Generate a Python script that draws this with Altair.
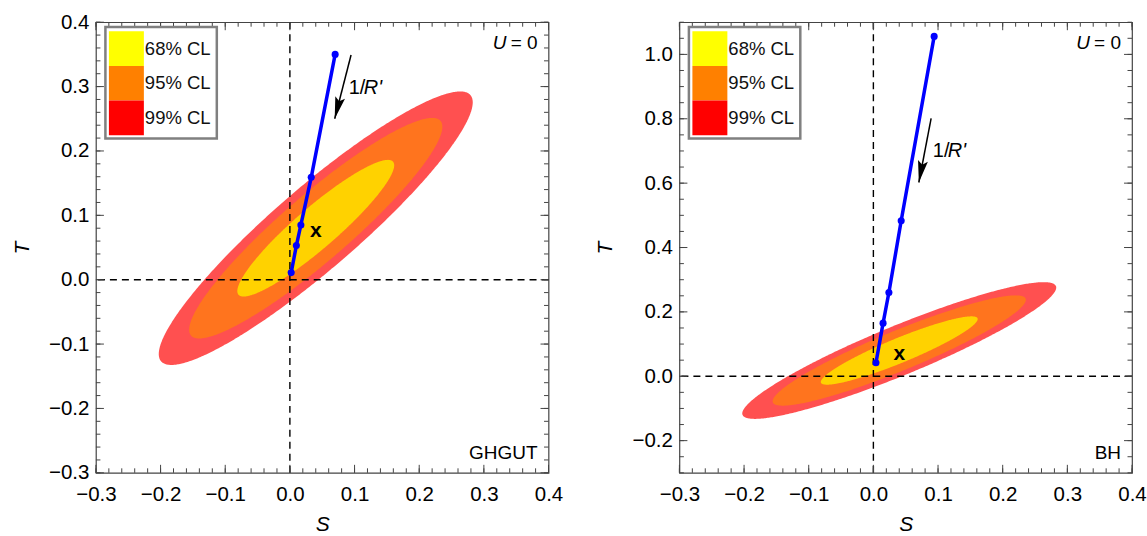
import altair as alt
import numpy as np
import pandas as pd

# ---------------- data ----------------
fit_center = [0.04, 0.08]      # best-fit (S, T), marked with "x"
fit_sigma = [0.08, 0.07]       # sigma_S, sigma_T
fit_rho = 0.92                 # S-T correlation
cl_labels = ["68% CL", "95% CL", "99% CL"]
cl_dchi2 = [2.30, 5.99, 9.21]
contour_colors = ["#FFD200", "#FF741E", "#FF5050"]
legend_colors = ["#FFFF00", "#FF8000", "#FF0000"]

ghgut_S = [0.070, 0.033, 0.017, 0.010, 0.002]
ghgut_T = [0.350, 0.159, 0.085, 0.053, 0.011]
bh_S = [0.094, 0.043, 0.024, 0.015, 0.004]
bh_T = [1.056, 0.483, 0.260, 0.165, 0.042]

ghgut_arrow = [0.0946, 0.349, 0.0693, 0.250]   # S0, T0, S1(tip), T1(tip)
bh_arrow = [0.0893, 0.801, 0.0703, 0.602]
ghgut_arrow_label = [0.091, 0.298]
bh_arrow_label = [0.092, 0.700]

s_major = [-0.3, -0.2, -0.1, 0.0, 0.1, 0.2, 0.3, 0.4]
s_minor = [round(-0.3 + 0.02 * i, 2) for i in range(36)]
ghgut_t_major = [-0.3, -0.2, -0.1, 0.0, 0.1, 0.2, 0.3, 0.4]
ghgut_t_minor = [round(-0.3 + 0.02 * i, 2) for i in range(36)]
bh_t_major = [-0.2, 0.0, 0.2, 0.4, 0.6, 0.8, 1.0]
bh_t_minor = [round(-0.3 + 0.05 * i, 2) for i in range(29)]

FONT = "Liberation Sans"
FRAME = "#444444"
W, H = 453, 451
ARROW_HEAD = "M0,0 L-0.5,-2.2 L0,-1.8 L0.5,-2.2 Z"


def ellipse_df(dchi2):
    r = np.sqrt(dchi2)
    th = np.linspace(0, np.pi, 241)
    S = fit_center[0] + r * fit_sigma[0] * np.cos(th)
    mid = fit_center[1] + fit_rho * fit_sigma[1] * r * np.cos(th)
    half = fit_sigma[1] * np.sqrt(1 - fit_rho ** 2) * r * np.sin(th)
    return pd.DataFrame({"S": S, "hi": mid + half, "lo": mid - half})


def panel(name, t_domain, t_major, t_minor, line_S, line_T, arrow, arrow_angle, lab):
    xs = alt.Scale(domain=[-0.3, 0.4], nice=False, zero=False)
    ys = alt.Scale(domain=t_domain, nice=False, zero=False)
    xax = alt.Axis(values=s_major, format=".1f", title="S", labelPadding=12,
                   titleX=W / 2, titleY=58, titleBaseline="alphabetic")
    yax = alt.Axis(values=t_major, format=".1f", title="T", labelPadding=7,
                   titleX=-67.7, titleY=H / 2, titleBaseline="alphabetic")

    def X(f):
        return alt.X(f, type="quantitative", scale=xs, axis=xax)

    def Y(f):
        return alt.Y(f, type="quantitative", scale=ys, axis=yax)

    layers = []
    # confidence contours (99 -> 68)
    for k in [2, 1, 0]:
        layers.append(alt.Chart(ellipse_df(cl_dchi2[k])).mark_area(
            color=contour_colors[k], opacity=1).encode(
            x=X("S"), y=Y("hi"), y2="lo"))
    # dashed zero lines
    zero = pd.DataFrame({"v": [0.0]})
    layers.append(alt.Chart(zero).mark_rule(color="black", strokeWidth=1.4,
                                            strokeDash=[7, 5]).encode(x=X("v")))
    layers.append(alt.Chart(zero).mark_rule(color="black", strokeWidth=1.4,
                                            strokeDash=[7, 5]).encode(y=Y("v")))
    # frame ticks (inward)
    for vals, L in [(s_minor, 4.5), (s_major, 8)]:
        d = pd.DataFrame({"v": vals})
        layers.append(alt.Chart(d).mark_rule(color=FRAME, strokeWidth=1).encode(
            x=X("v"), y=alt.value(H), y2=alt.value(H - L)))
        layers.append(alt.Chart(d).mark_rule(color=FRAME, strokeWidth=1).encode(
            x=X("v"), y=alt.value(0), y2=alt.value(L)))
    for vals, L in [(t_minor, 4.5), (t_major, 8)]:
        d = pd.DataFrame({"v": vals})
        layers.append(alt.Chart(d).mark_rule(color=FRAME, strokeWidth=1).encode(
            y=Y("v"), x=alt.value(0), x2=alt.value(L)))
        layers.append(alt.Chart(d).mark_rule(color=FRAME, strokeWidth=1).encode(
            y=Y("v"), x=alt.value(W), x2=alt.value(W - L)))
    # best fit marker
    c = pd.DataFrame({"S": [fit_center[0]], "T": [fit_center[1]]})
    layers.append(alt.Chart(c).mark_text(text="x", font=FONT, fontSize=21, dy=3,
                                         fontWeight="bold", baseline="middle",
                                         color="black").encode(x=X("S"), y=Y("T")))
    # blue line with points
    ld = pd.DataFrame({"S": line_S, "T": line_T, "i": list(range(len(line_S)))})
    layers.append(alt.Chart(ld).mark_line(color="#0000FF", strokeWidth=3.5).encode(
        x=X("S"), y=Y("T"), order="i:Q"))
    layers.append(alt.Chart(ld).mark_circle(color="#0000FF", size=50, opacity=1).encode(
        x=X("S"), y=Y("T")))
    # arrow 1/R'
    ad = pd.DataFrame({"S0": [arrow[0]], "T0": [arrow[1]],
                       "S1": [arrow[2]], "T1": [arrow[3]]})
    layers.append(alt.Chart(ad).mark_rule(color="black", strokeWidth=1.5).encode(
        x=X("S0"), y=Y("T0"), x2="S1", y2="T1"))
    layers.append(alt.Chart(ad).mark_point(shape=ARROW_HEAD, size=400, angle=arrow_angle,
                                           filled=True, color="black", opacity=1,
                                           strokeWidth=0).encode(x=X("S1"), y=Y("T1")))
    lb = pd.DataFrame({"S": [lab[0]], "T": [lab[1]]})
    layers.append(alt.Chart(lb).mark_text(text="1/", font=FONT, fontSize=20, align="left",
                                          baseline="middle", color="black").encode(
        x=X("S"), y=Y("T")))
    layers.append(alt.Chart(lb).mark_text(text="R'", font=FONT, fontSize=20, align="left",
                                          fontStyle="italic", dx=15, baseline="middle",
                                          color="black").encode(x=X("S"), y=Y("T")))
    one = pd.DataFrame({"a": [0]})
    # U = 0
    layers.append(alt.Chart(one).mark_text(text="= 0", font=FONT, fontSize=19, align="right",
                                           baseline="middle", color="black").encode(
        x=alt.value(W - 11), y=alt.value(21)))
    layers.append(alt.Chart(one).mark_text(text="U", font=FONT, fontSize=19, align="right",
                                           fontStyle="italic", baseline="middle",
                                           color="black").encode(
        x=alt.value(W - 42), y=alt.value(21)))
    # panel name
    layers.append(alt.Chart(one).mark_text(text=name, font=FONT, fontSize=19, align="right",
                                           baseline="middle", color="black").encode(
        x=alt.value(W - 11), y=alt.value(431)))
    # legend box
    layers.append(alt.Chart(one).mark_rect(fill="white", stroke="#808080",
                                           strokeWidth=2.5).encode(
        x=alt.value(9.5), x2=alt.value(121), y=alt.value(4.7), y2=alt.value(116.3)))
    for k in range(3):
        y0 = 9 + 34.7 * k
        layers.append(alt.Chart(one).mark_rect(fill=legend_colors[k]).encode(
            x=alt.value(13), x2=alt.value(48), y=alt.value(y0), y2=alt.value(y0 + 34.7)))
        layers.append(alt.Chart(one).mark_text(text=cl_labels[k], font=FONT, fontSize=18.5,
                                               align="left", baseline="middle",
                                               color="#111111").encode(
            x=alt.value(49), y=alt.value(y0 + 17.5)))
    return alt.layer(*layers).properties(width=W, height=H)


left = panel("GHGUT", [-0.3, 0.4], ghgut_t_major, ghgut_t_minor, ghgut_S, ghgut_T,
             ghgut_arrow, 14.4, ghgut_arrow_label)
right = panel("BH", [-0.3, 1.1], bh_t_major, bh_t_minor, bh_S, bh_T,
              bh_arrow, 10.8, bh_arrow_label)

chart = alt.hconcat(left, right, spacing=131, bounds="flush").properties(
    padding={"left": 10, "top": 11, "right": 0, "bottom": 0}
).configure_view(stroke=FRAME, strokeWidth=1.2).configure_axis(
    labelFont=FONT, labelFontSize=20.5, labelColor="black",
    titleFont=FONT, titleFontSize=21, titleFontStyle="italic",
    titleFontWeight="normal", titleColor="black",
    ticks=False, tickSize=0, domain=False, grid=False,
    labelFlush=False, labelOverlap=False
).configure_text(font=FONT)

chart.save("out.html", embed_options={"renderer": "svg", "actions": False})
